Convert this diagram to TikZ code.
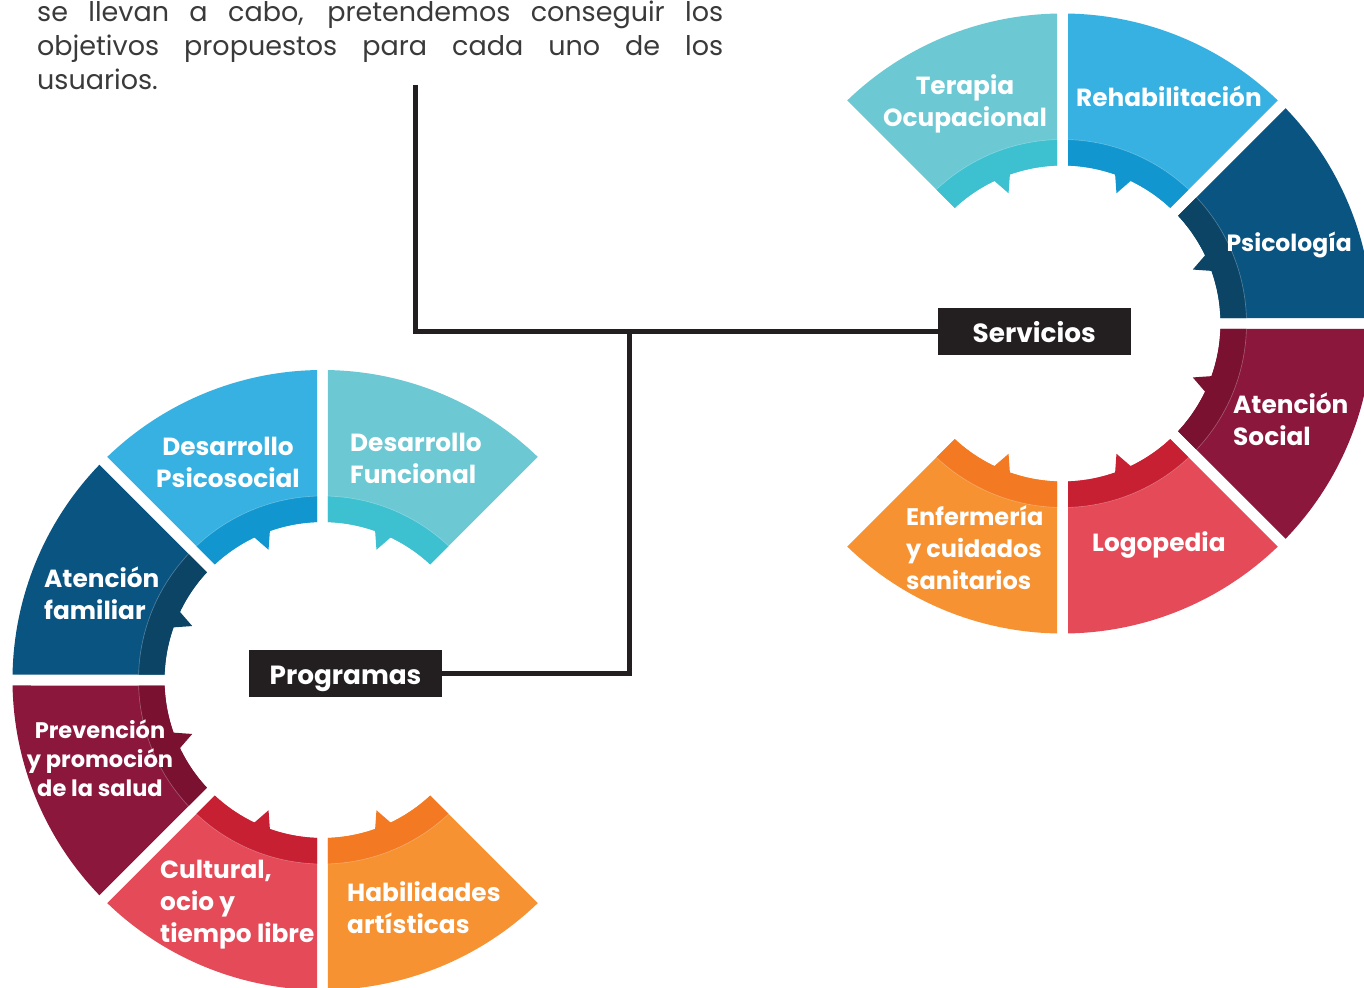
\documentclass[tikz,border=0pt]{standalone}
\usepackage{fontspec}
\setmainfont{Poppins}
\usetikzlibrary{calc}
\definecolor{tealL}{HTML}{6CC9D4}
\definecolor{tealD}{HTML}{3DC0CF}
\definecolor{blueL}{HTML}{37B1E1}
\definecolor{blueD}{HTML}{1196CF}
\definecolor{navyL}{HTML}{0A5482}
\definecolor{navyD}{HTML}{0C4466}
\definecolor{marL}{HTML}{8B173D}
\definecolor{marD}{HTML}{7A1131}
\definecolor{pinkL}{HTML}{E44A58}
\definecolor{pinkD}{HTML}{C72033}
\definecolor{oraL}{HTML}{F69231}
\definecolor{oraD}{HTML}{F37A22}
\definecolor{boxbg}{HTML}{231F20}
\definecolor{bodytxt}{HTML}{3A3A3A}
\newcommand\ml[2]{\begin{tabular}[t]{@{}#1@{}}#2\end{tabular}}
\newcommand\rsector[6]{%
\pgfmathsetmacro\sA{#3+asin(5.5/158)}%
\pgfmathsetmacro\sB{#3+asin(5.5/310)}%
\pgfmathsetmacro\eB{#4-asin(5.5/310)}%
\pgfmathsetmacro\eA{#4-asin(5.5/158)}%
\pgfmathsetmacro\sM{#3+asin(5.5/184)}%
\pgfmathsetmacro\eM{#4-asin(5.5/184)}%
\pgfmathsetmacro\mA{(#3+#4)/2}%
\pgfmathsetmacro\mP{\mA+3.2}%
\pgfmathsetmacro\mQ{\mA-3.2}%
\fill[#5] ($(#1,#2)+(\sA:158)$) -- ($(#1,#2)+(\sB:310)$) arc[start angle=\sB,end angle=\eB,radius=310] -- ($(#1,#2)+(\eA:158)$) arc[start angle=\eA,end angle=\sA,radius=158] -- cycle;
\fill[#6] ($(#1,#2)+(\sA:158)$) -- ($(#1,#2)+(\sM:184)$) arc[start angle=\sM,end angle=\eM,radius=184] -- ($(#1,#2)+(\eA:158)$) arc[start angle=\eA,end angle=\sA,radius=158] -- cycle;
\fill[#6] ($(#1,#2)+(\mQ:159)$) -- ($(#1,#2)+(\mA:141)$) -- ($(#1,#2)+(\mP:159)$) -- cycle;
\draw[white,opacity=0.3,line width=0.6pt] ($(#1,#2)+(\sM:184)$) arc[start angle=\sM,end angle=\eM,radius=184];
}
\tikzset{
  lbl/.style={text=white,font=\bfseries\fontsize{24.8}{32}\selectfont,inner sep=0pt,anchor=base west},
  lblc/.style={lbl,anchor=base},
  body/.style={text=bodytxt,font=\fontsize{27}{34}\selectfont,inner sep=0pt,anchor=base west},
  titlebox/.style={fill=boxbg,text=white,font=\bfseries\fontsize{26.3}{34}\selectfont,minimum width=193pt,minimum height=47pt,inner sep=0pt,text height=22pt,text depth=0pt},
  conn/.style={draw=boxbg,line width=4.8pt}
}
\begin{document}
\begin{tikzpicture}[x=1pt,y=1pt]
\clip (0,0) rectangle (1364,-987);
\fill[white] (0,0) rectangle (1364,-987);
% top paragraph
\node[body] (t1) at (37,-22) {\makebox[686pt][s]{se llevan a cabo, pretendemos conseguir los}};
\node[body] (t2) at (37,-56) {\makebox[686pt][s]{objetivos propuestos para cada uno de los}};
\node[body] (t3) at (37,-90) {usuarios.};
% Servicios ring
\rsector{1062.5}{-323.5}{90}{135}{tealL}{tealD}
\rsector{1062.5}{-323.5}{45}{90}{blueL}{blueD}
\rsector{1062.5}{-323.5}{0}{45}{navyL}{navyD}
\rsector{1062.5}{-323.5}{-45}{0}{marL}{marD}
\rsector{1062.5}{-323.5}{-90}{-45}{pinkL}{pinkD}
\rsector{1062.5}{-323.5}{-135}{-90}{oraL}{oraD}
% Programas ring
\rsector{322.5}{-680}{45}{90}{tealL}{tealD}
\rsector{322.5}{-680}{90}{135}{blueL}{blueD}
\rsector{322.5}{-680}{135}{180}{navyL}{navyD}
\rsector{322.5}{-680}{180}{225}{marL}{marD}
\rsector{322.5}{-680}{225}{270}{pinkL}{pinkD}
\rsector{322.5}{-680}{270}{315}{oraL}{oraD}
% Servicios labels
\node[lblc] (s1) at (965,-95) {\ml{c}{Terapia\\Ocupacional}};
\node[lbl] (s2) at (1076,-107) {Rehabilitación};
\node[lbl,anchor=base east,font=\bfseries\fontsize{23.5}{32}\selectfont] (s3) at (1352,-251) {Psicología};
\node[lbl] (s4) at (1233,-413) {\ml{l}{Atención\\Social}};
\node[lbl] (s5) at (1092,-551) {Logopedia};
\node[lbl,font=\bfseries\fontsize{24}{32}\selectfont] (s6) at (906,-525) {\ml{l}{Enfermería\\y cuidados\\sanitarios}};
% Programas labels
\node[lblc] (p1) at (228,-455) {\ml{c}{Desarrollo\\Psicosocial}};
\node[lbl] (p2) at (350,-451) {\ml{l}{Desarrollo\\Funcional}};
\node[lbl] (p3) at (44,-587) {\ml{l}{Atención\\familiar}};
\node[lblc,font=\bfseries\fontsize{22.5}{29}\selectfont] (p4) at (100,-738) {\ml{c}{Prevención\\y promoción\\de la salud}};
\node[lbl] (p5) at (160,-878) {\ml{l}{Cultural,\\ocio y\\tiempo libre}};
\node[lbl] (p6) at (347,-901) {\ml{l}{Habilidades\\artísticas}};
% connectors and title boxes
\coordinate (top) at (415.5,-85);
\coordinate (jn) at (629.5,-331.7);
\node[titlebox] (serv) at (1034.2,-331.7) {};
\node[titlebox] (prog) at (345.5,-673.7) {};
\draw[conn] (top) |- (serv.west);
\draw[conn] (jn) |- (prog.east);
\node[titlebox] (servt) at (serv) {Servicios};
\node[titlebox] (progt) at (prog) {Programas};
\end{tikzpicture}
\end{document}
